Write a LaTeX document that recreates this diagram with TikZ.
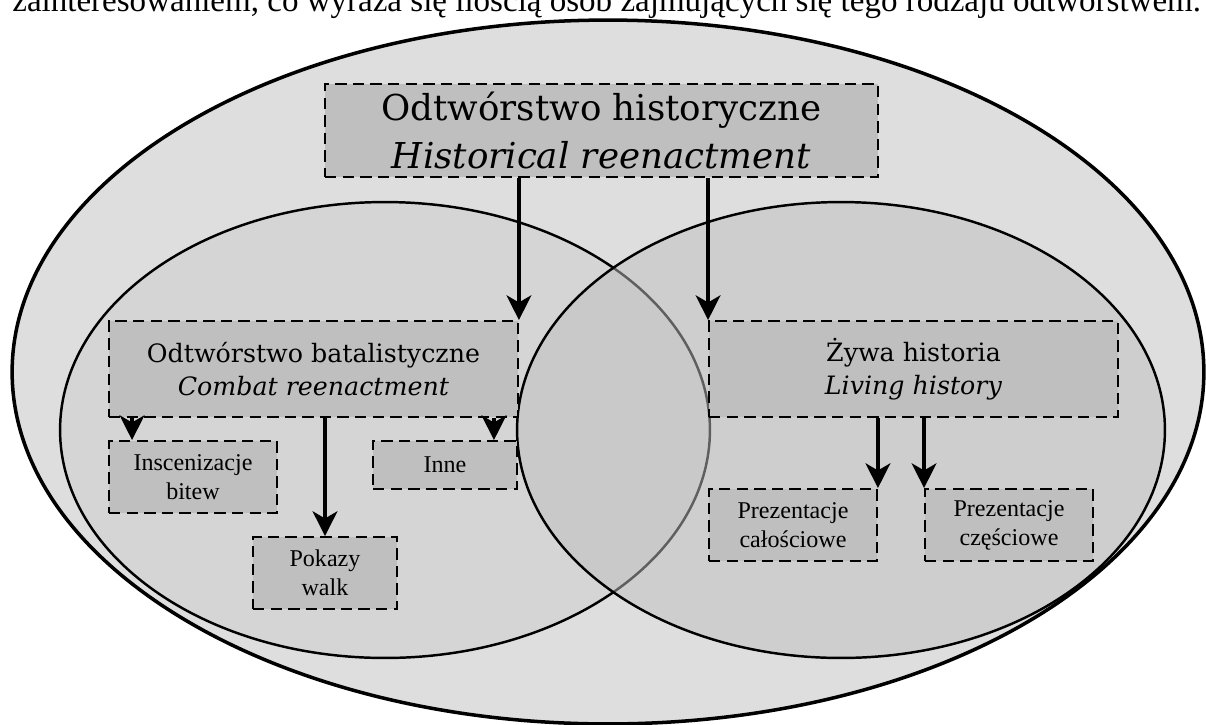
\documentclass[tikz,border=0pt]{standalone}
\usepackage{fontspec}
\setmainfont{Liberation Serif}
\newfontfamily\headfont{DejaVu Serif}
\usetikzlibrary{arrows.meta}

\definecolor{outerfill}{gray}{0.87}
\definecolor{leftfill}{gray}{0.835}
\definecolor{rightfill}{gray}{0.75}
\definecolor{boxfill}{gray}{0.75}

\begin{document}
\begin{tikzpicture}[x=0.02cm, y=-0.02cm,
    >={Stealth[length=14pt, width=14pt, inset=4pt]},
    area/.style={draw=black, line width=1.4pt},
    box/.style={draw=black, fill=boxfill, dash pattern=on 6.5pt off 3.5pt, line width=1.1pt, align=center, inner sep=0pt},
    bigbox/.style={box, font=\headfont\fontsize{20.3}{27}\selectfont},
    midbox/.style={box, minimum width=8.18cm, minimum height=1.92cm, font=\headfont\fontsize{14.4}{19}\selectfont},
    smallbox/.style={box, minimum width=3.36cm, minimum height=1.44cm, font=\fontsize{13.7}{16.6}\selectfont},
    arr/.style={->, line width=2.6pt}]

    \useasboundingbox (0,0) rectangle (1206,724);

    % Line of the page above
    \node[anchor=base west, inner sep=0pt, font=\fontsize{18.8}{22}\selectfont] (pagetext) at (12,11) {zainteresowaniem, co wyraża się ilością osób zajmujących się tego rodzaju odtwórstwem.};

    % Areas
    \draw[area, fill=outerfill, line width=2pt] (608,372) ellipse [x radius=11.92cm, y radius=7.04cm];
    \draw[area, fill=leftfill] (385,430) ellipse [x radius=6.5cm, y radius=4.56cm];
    \draw[area, fill=rightfill, fill opacity=0.5] (841,430) ellipse [x radius=6.48cm, y radius=4.56cm];

    % Nodes
    \node[bigbox, minimum width=11.06cm, minimum height=1.86cm] (hist) at (601.5,130.5) {Odtwórstwo historyczne\\\textit{Historical reenactment}}; %
    \node[midbox] (combat) at (313.5,369) {Odtwórstwo batalistyczne\\\textit{Combat reenactment}}; %
    \node[midbox] (living) at (913.5,369) {Żywa historia\\\textit{Living history}}; %

    \node[smallbox] (battles) at (193,477) {Inscenizacje\\bitew}; %
    \node[smallbox, minimum width=2.88cm, minimum height=0.96cm] (other) at (445,465) {Inne}; %
    \node[smallbox, minimum width=2.88cm] (fights) at (325,573) {Pokazy\\walk}; %
    \node[smallbox] (whole) at (793,525) {Prezentacje\\całościowe}; %
    \node[smallbox] (partial) at (1009,525) {Prezentacje\\częściowe}; %

    \coordinate (battlesin) at ([xshift=0.48cm]battles.north west);
    \coordinate (otherin) at ([xshift=-0.48cm]other.north east);

    % Arrows
    \draw[arr] (hist.south -| combat.north east) -- (combat.north east);
    \draw[arr] (hist.south -| living.north west) -- (living.north west);
    \draw[arr] (combat.south -| battlesin) -- (battlesin);
    \draw[arr] (combat.south -| fights.north) -- (fights.north);
    \draw[arr] (combat.south -| otherin) -- (otherin);
    \draw[arr] (living.south -| whole.north east) -- (whole.north east);
    \draw[arr] (living.south -| partial.north west) -- (partial.north west);

\end{tikzpicture}
\end{document}
